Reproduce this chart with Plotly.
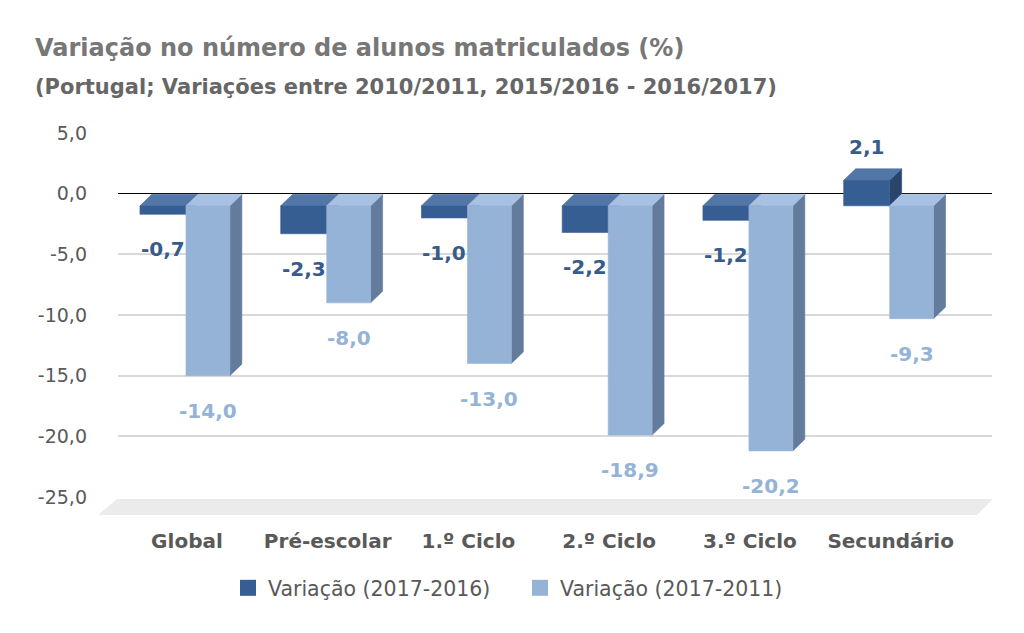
import plotly.graph_objects as go

# ---------------- data ----------------
categories = ["Global", "Pré-escolar", "1.º Ciclo", "2.º Ciclo", "3.º Ciclo", "Secundário"]
var_2017_2016 = [-0.7, -2.3, -1.0, -2.2, -1.2, 2.1]
var_2017_2011 = [-14.0, -8.0, -13.0, -18.9, -20.2, -9.3]
series_names = ["Variação (2017-2016)", "Variação (2017-2011)"]
y_tick_values = [5, 0, -5, -10, -15, -20, -25]
y_tick_labels = ["5,0", "0,0", "-5,0", "-10,0", "-15,0", "-20,0", "-25,0"]

title_text = "Variação no número de alunos matriculados (%)"
subtitle_text = "(Portugal; Variações entre 2010/2011, 2015/2016 - 2016/2017)"

# ---------------- style ----------------
W, H = 1024, 633
PAGE = 8                      # page body margin offset of the figure div
PLOT_L, PLOT_R, PLOT_T, PLOT_B = 118, 992, 133, 497   # target page pixels
ML = PLOT_L - PAGE
MT = PLOT_T - PAGE
MR = W - (PLOT_R - PAGE)
MB = H - (PLOT_B - PAGE)
FONT = "DejaVu Sans"
BASE = -1.0        # 3D floor offset of the front faces
DEPTH_X = 0.085    # depth of the 3D effect (category units)
DEPTH_Y = 0.95     # depth of the 3D effect (value units)

styles = [
    dict(offset=-0.334, width=0.327, front="#375e92", top="#5276a7",
         side="#28456c", label="#385b89"),
    dict(offset=-0.007, width=0.312, front="#95b3d7", top="#a8c0e1",
         side="#637b9c", label="#95b3d7"),
]

xpos = list(range(len(categories)))


def faces(vals, st):
    """Build polygon outlines (front, top, side) for 3D-looking bars."""
    fx, fy, tx, ty, sx, sy = [], [], [], [], [], []
    for i, v in zip(xpos, vals):
        x0 = i + st["offset"]
        x1 = x0 + st["width"]
        yb = BASE
        ye = BASE + v
        yt = BASE + max(v, 0)
        fx += [x0, x1, x1, x0, x0, None]
        fy += [yb, yb, ye, ye, yb, None]
        tx += [x0, x1, x1 + DEPTH_X, x0 + DEPTH_X, x0, None]
        ty += [yt, yt, yt + DEPTH_Y, yt + DEPTH_Y, yt, None]
        sx += [x1, x1, x1 + DEPTH_X, x1 + DEPTH_X, x1, None]
        sy += [yb, ye, ye + DEPTH_Y, yb + DEPTH_Y, yb, None]
    return (fx, fy), (tx, ty), (sx, sy)


fig = go.Figure()
annotations = []

for vals, name, st in zip([var_2017_2016, var_2017_2011], series_names, styles):
    front, top, side = faces(vals, st)
    for (px, py), col in [(side, st["side"]), (top, st["top"]), (front, st["front"])]:
        fig.add_scatter(x=px, y=py, mode="lines", fill="toself", fillcolor=col,
                        line=dict(color=col, width=0.6), showlegend=False,
                        hoverinfo="skip")
    # legend entry (square swatch)
    fig.add_scatter(x=[None], y=[None], mode="markers", name=name,
                    marker=dict(symbol="square", size=16, color=st["front"]))
    for i, v in zip(xpos, vals):
        annotations.append(dict(
            x=i + st["offset"] + st["width"] / 2, y=BASE + v,
            xref="x", yref="y", text=f"{v:.1f}".replace(".", ","),
            showarrow=False, yanchor="middle", xanchor="center",
            yshift=-35 if v < 0 else 33,
            font=dict(family=FONT, size=20, color=st["label"], weight="bold"),
        ))

pw = PLOT_R - PLOT_L
ph = PLOT_B - PLOT_T


def px_x(x):
    return (x - PLOT_L) / pw


def px_y(y):
    return (PLOT_B - y) / ph


annotations.append(dict(x=px_x(33), y=px_y(48), xref="paper", yref="paper",
                        text=title_text, showarrow=False, xanchor="left", yanchor="middle",
                        font=dict(family=FONT, size=24, color="#777777", weight="bold")))
annotations.append(dict(x=px_x(33), y=px_y(87), xref="paper", yref="paper",
                        text=subtitle_text, showarrow=False, xanchor="left", yanchor="middle",
                        font=dict(family=FONT, size=21, color="#666666", weight="bold")))

floor = dict(type="path", xref="paper", yref="paper", layer="below",
             path=f"M {px_x(117)} {px_y(499)} L {px_x(993)} {px_y(499)} "
                  f"L {px_x(977)} {px_y(515)} L {px_x(98)} {px_y(515)} Z",
             fillcolor="#ebebeb", line=dict(width=0))

fig.update_layout(
    width=W, height=H,
    margin=dict(l=ML, r=MR, t=MT, b=MB, autoexpand=False),
    paper_bgcolor="white", plot_bgcolor="white",
    showlegend=True,
    legend=dict(orientation="h", x=px_x(228), xanchor="left",
                y=px_y(588), yanchor="middle",
                font=dict(family=FONT, size=20.5, color="#595959"),
                itemwidth=30, tracegroupgap=0, entrywidth=247),
    annotations=annotations,
    shapes=[floor],
    xaxis=dict(range=[-0.49, 5.72], tickvals=xpos, ticktext=categories,
               showgrid=False, zeroline=False,
               showline=False, ticks="", ticklabelstandoff=30, automargin=False,
               tickfont=dict(family=FONT, size=20, color="#595959", weight="bold")),
    yaxis=dict(range=[-25, 5], tickvals=y_tick_values, ticktext=y_tick_labels,
               showgrid=True, gridcolor="#d9d9d9", gridwidth=2,
               zeroline=True, zerolinecolor="#000000", zerolinewidth=1,
               showline=False, ticks="", ticklabelstandoff=30, automargin=False,
               tickfont=dict(family=FONT, size=19, color="#595959")),
)

fig.write_html("out.html")
